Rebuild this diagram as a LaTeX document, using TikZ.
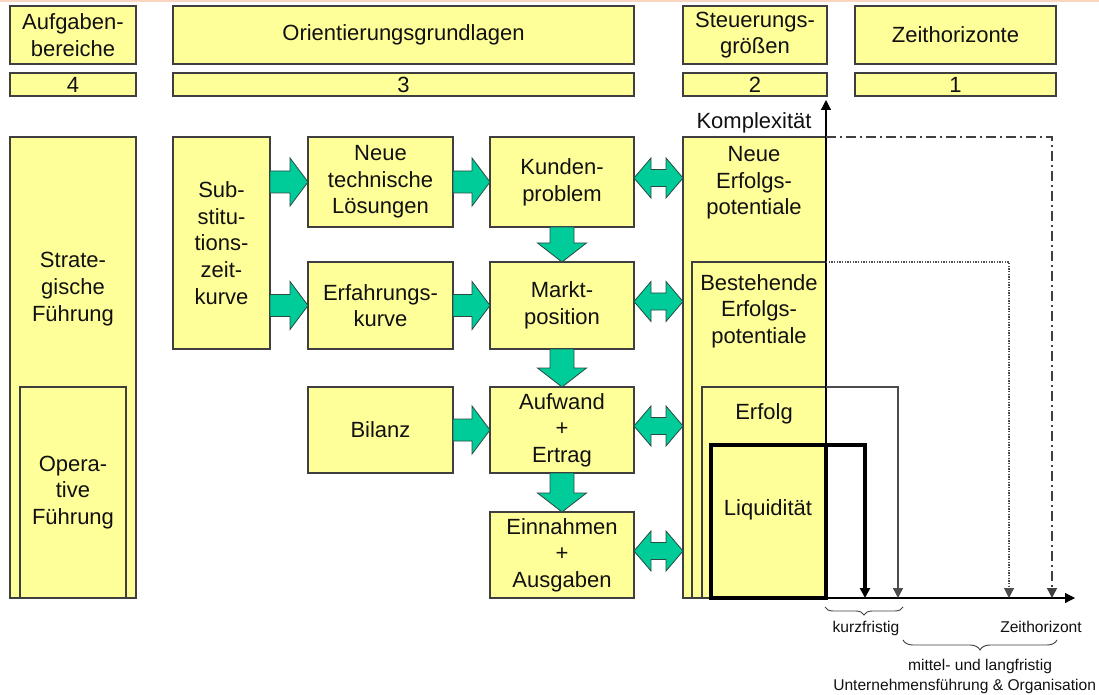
\documentclass[tikz,border=0pt]{standalone}
\usepackage{fontspec}
\setmainfont{Liberation Sans}
\usetikzlibrary{arrows.meta,calc,decorations.pathreplacing}
\definecolor{boxfill}{HTML}{FFFF99}
\definecolor{boxline}{HTML}{3F3F3F}
\definecolor{arrfill}{HTML}{00CC99}
\definecolor{arrline}{HTML}{2A4A40}
\definecolor{peach}{HTML}{FAD5C0}
\definecolor{txt}{HTML}{111111}
\newcommand\rarr[2]{\path[garrow] let \p1=(#1.east |- #2.west), \p2=(#2.west) in
  (\x1,\y1+8.25pt) -- (\x2-13.5pt,\y1+8.25pt) -- (\x2-13.5pt,\y1+18pt) -- (\x2,\y1)
  -- (\x2-13.5pt,\y1-18pt) -- (\x2-13.5pt,\y1-8.25pt) -- (\x1,\y1-8.25pt) -- cycle;}
\newcommand\darr[2]{\path[garrow] let \p1=($(#1.east)+(0,3pt)$), \p2=(#2.west) in
  (\x1,\y1) -- (\x1+12.75pt,\y1+15pt) -- (\x1+12.75pt,\y1+6.4pt) -- (\x2-12.75pt,\y1+6.4pt)
  -- (\x2-12.75pt,\y1+15pt) -- (\x2,\y1) -- (\x2-12.75pt,\y1-15pt) -- (\x2-12.75pt,\y1-6.4pt)
  -- (\x1+12.75pt,\y1-6.4pt) -- (\x1+12.75pt,\y1-15pt) -- cycle;}
\newcommand\varr[2]{\path[garrow] let \p1=(#1.south), \p2=(#2.north) in
  (\x1-9pt,\y1) -- (\x1-9pt,\y2+14.25pt) -- (\x1-18.4pt,\y2+14.25pt) -- (\x1,\y2)
  -- (\x1+18.4pt,\y2+14.25pt) -- (\x1+9pt,\y2+14.25pt) -- (\x1+9pt,\y1) -- cycle;}
\tikzset{
  every node/.style={font=\fontsize{16.5}{20}\selectfont, text=txt},
  box/.style 2 args={draw=boxline, fill=boxfill, line width=1pt, inner sep=0pt, outer sep=0pt,
    align=center, minimum width=#1*0.75pt, minimum height=#2*0.75pt},
  lbl/.style={align=center, inner sep=0pt},
  small/.style={font=\fontsize{11.7}{13}\selectfont, inner sep=0pt},
  garrow/.style={fill=arrfill, draw=arrline, line width=0.6pt, line join=miter},
  tip/.style={-{Triangle[width=7.5pt,length=7.5pt]}},
  brc/.style={draw=black!75, line width=0.7pt, decorate, decoration={brace,mirror,amplitude=#1}}
}
\begin{document}
\begin{tikzpicture}[x=0.75pt,y=-0.75pt]
\useasboundingbox (0,0) rectangle (1099,695);
\fill[peach] (0,0) rectangle (1099,2.5);
% header row
\node[box={126}{58}] (hA) at (73,35) {Aufgaben-\\bereiche};
\node[box={461}{58}] (hO) at (403.5,35) {Orientierungsgrundlagen};
\node[box={144}{58}] (hS) at (755,35) {Steuerungs-\\größen};
\node[box={201}{58}] (hZ) at (955.5,35) {Zeithorizonte};
\node[box={126}{23}] (n4) at (73,84.5) {4};
\node[box={461}{23}] (n3) at (403.5,84.5) {3};
\node[box={144}{23}] (n2) at (755,84.5) {2};
\node[box={201}{23}] (n1) at (955.5,84.5) {1};
% left column
\node[box={126}{461}] (strat) at (73,367.5) {};
\node[lbl] (stratT) at (73,289) {Strate-\\gische\\Führung};
\node[box={106}{211}] (oper) at (73,492.5) {Opera-\\tive\\Führung};
% orientation boxes
\node[box={97}{212}] (subst) at (221.5,243) {Sub-\\stitu-\\tions-\\zeit-\\kurve};
\node[box={145}{90}] (ntech) at (380.5,182) {Neue\\technische\\Lösungen};
\node[box={145}{87}] (erf) at (380.5,305.5) {Erfahrungs-\\kurve};
\node[box={145}{86}] (bil) at (380.5,430) {Bilanz};
\node[box={144}{90}] (kund) at (562,182) {Kunden-\\problem};
\node[box={144}{87}] (markt) at (562,305.5) {Markt-\\position};
\node[box={144}{86}] (aufw) at (562,430) {Aufwand\\+\\Ertrag};
\node[box={144}{86}] (einn) at (562,555) {Einnahmen\\+\\Ausgaben};
% right column
\node[box={143}{461}] (neueEP) at (754.5,367.5) {};
\node[lbl] (neueT) at (754,183) {Neue\\Erfolgs-\\potentiale};
\node[box={134}{336}] (bestEP) at (759,430) {};
\node[lbl] (bestT) at (759,311) {Bestehende\\Erfolgs-\\potentiale};
\node[box={124}{211}] (erfolg) at (764,492.5) {};
\node[lbl] (erfolgT) at (764,414) {Erfolg};
\node[box={115}{153}, draw=black, line width=2.6pt] (liquid) at (768.5,521.5) {};
\node[lbl] (liquidT) at (768,510) {Liquidität};
% green arrows
\rarr{subst}{ntech}
\rarr{subst}{erf}
\rarr{ntech}{kund}
\rarr{erf}{markt}
\rarr{bil}{aufw}
\varr{kund}{markt}
\varr{markt}{aufw}
\varr{aufw}{einn}
\darr{kund}{neueEP}
\darr{markt}{neueEP}
\darr{aufw}{neueEP}
\darr{einn}{neueEP}
% axes
\coordinate (o) at (826,598);
\coordinate (yend) at (826,100);
\coordinate (xend) at (1075,598);
\coordinate (t1) at (865,598);
\coordinate (t2) at (898,598);
\coordinate (t3) at (1009,598);
\coordinate (t4) at (1052,598);
\draw[tip, line width=0.9pt] (o) -- (yend);
\draw[tip, line width=0.9pt] (o) -- (xend);
\node[lbl] (kompl) at (754,123) {Komplexität};
% horizon lines
\draw[tip, line width=2.6pt, line join=miter] (liquid.north east) -| (t1);
\draw[tip, line width=1.1pt, draw=black!70] (erfolg.north east) -| (t2);
\draw[tip, line width=0.8pt, draw=black!70, dash pattern=on 1pt off 1pt] (bestEP.north east) -| (t3);
\draw[tip, line width=1.1pt, draw=black!75, dash pattern=on 7.5pt off 3pt on 1.5pt off 3pt] (neueEP.north east) -| (t4);
% braces
\coordinate (b1a) at (825,607);
\coordinate (b1b) at (903,607);
\coordinate (b2a) at (903,640);
\coordinate (b2b) at (1057,640);
\draw[brc=6pt] (b1a) -- (b1b);
\draw[brc=7.5pt] (b2a) -- (b2b);
\node[small] (kurz) at (866,628) {kurzfristig};
\node[small] (zeith) at (1041,627) {Zeithorizont};
\node[small] (mittel) at (980,666) {mittel- und langfristig};
\node[small, anchor=west] (unter) at (833,686) {Unternehmensführung \& Organisation};
\end{tikzpicture}
\end{document}
